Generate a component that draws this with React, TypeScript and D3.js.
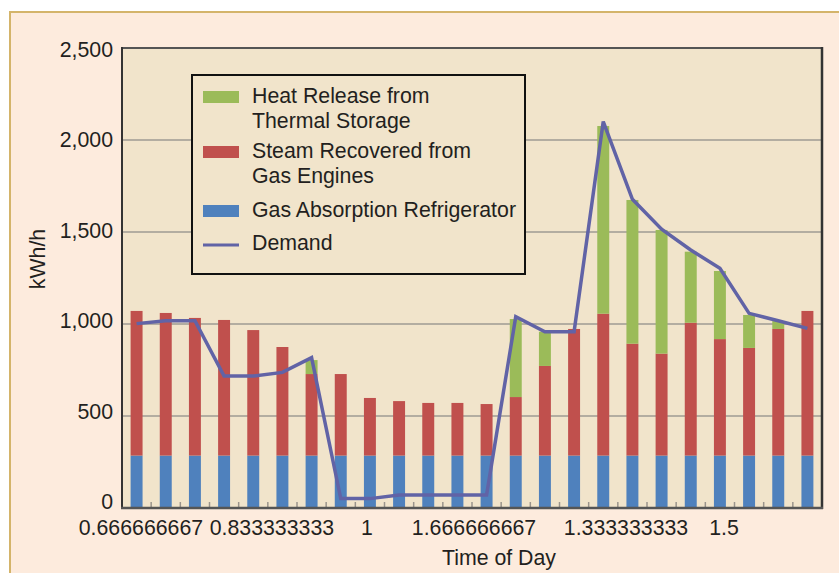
import React from "react";
import * as d3 from "d3";

// ---- data ----
const categories = [
  "16", "17", "18", "19", "20", "21", "22", "23", "24", "1", "2", "3",
  "4", "5", "6", "7", "8", "9", "10", "11", "12", "13", "14", "15",
];
const gasAbsorption = [
  285, 285, 285, 285, 285, 285, 285, 285, 285, 285, 285, 285,
  285, 285, 285, 285, 285, 285, 285, 285, 285, 285, 285, 285,
];
const steamRecovered = [
  786, 775, 748, 737, 682, 590, 443, 443, 313, 296, 286, 286,
  280, 318, 487, 688, 771, 608, 554, 722, 633, 585, 688, 786,
];
const heatRelease = [
  0, 0, 0, 0, 0, 0, 76, 0, 0, 0, 0, 0,
  0, 424, 186, 0, 1020, 781, 672, 386, 370, 179, 43, 0,
];
const demand = [
  1002, 1018, 1018, 717, 717, 737, 817, 51, 51, 71, 71, 71,
  71, 1040, 958, 958, 2100, 1678, 1515, 1402, 1303, 1058, 1018, 976,
];
const xTickLabels = ["0.666666667", "0.833333333", "1", "1.666666667", "1.333333333", "1.5"];
const yTicks = [0, 500, 1000, 1500, 2000, 2500];

// label anchor positions in category units (layout, not data)
const xTickAt = [0.15, 4.64, 7.9, 11.57, 16.78, 20.14];

const W = 839;
const H = 573;
const plot = { left: 122, right: 822, top: 48, bottom: 508 };
const FONT = "'Liberation Sans', Arial, Helvetica, sans-serif";
const TEXT = "#231f20";
const C_GREEN = "#9bbb59";
const C_RED = "#c0504d";
const C_BLUE = "#4f81bd";
const C_LINE = "#6163a6";
const FS = 21.3;

export default function App() {
  const x = d3
    .scaleBand<string>()
    .domain(categories)
    .range([plot.left, plot.right])
    .paddingInner(0.59)
    .paddingOuter(0.295);
  const y = d3.scaleLinear().domain([0, 2500]).range([plot.bottom, plot.top]);
  // baseline positions of the y tick labels (evenly spaced, slightly tighter than ticks)
  const yLab = d3.scaleLinear().domain([0, 2500]).range([509, 56.7]);
  const step = (plot.right - plot.left) / categories.length;
  const catX = (u: number) => plot.left + (u + 0.5) * step;
  const center = (c: string) => (x(c) as number) + x.bandwidth() / 2;

  const stacks = categories.map((c, i) => {
    const b1 = gasAbsorption[i];
    const s1 = b1 + steamRecovered[i];
    const h1 = s1 + heatRelease[i];
    return {
      c,
      segs: [
        { y0: 0, y1: b1, color: C_BLUE },
        { y0: b1, y1: s1, color: C_RED },
        { y0: s1, y1: h1, color: C_GREEN },
      ],
    };
  });

  const line = d3
    .line<number>()
    .x((_, i) => center(categories[i]))
    .y((d) => y(d));

  const legendItems = [
    { type: "rect", color: C_GREEN, lines: ["Heat Release from", "Thermal Storage"], sy: 91, by: 103 },
    { type: "rect", color: C_RED, lines: ["Steam Recovered from", "Gas Engines"], sy: 146, by: 158 },
    { type: "rect", color: C_BLUE, lines: ["Gas Absorption Refrigerator"], sy: 205, by: 217 },
    { type: "line", color: C_LINE, lines: ["Demand"], sy: 245, by: 250 },
  ];

  return (
    <div style={{ position: "absolute", left: 0, top: 0 }}>
      <svg width={W} height={H} style={{ display: "block" }} fontFamily={FONT}>
        <rect x={0} y={0} width={W} height={H} fill="#ffffff" />
        <rect x={10} y={12} width={W + 20} height={H + 20} fill="#fdebdd" stroke="#d4b46a" strokeWidth={2} />
        {/* plot area */}
        <rect x={plot.left} y={plot.top} width={plot.right - plot.left} height={plot.bottom - plot.top} fill="#f1e4cb" />
        {/* grid */}
        {yTicks.filter((t) => t > 0 && t < 2500).map((t) => (
          <line key={t} x1={plot.left} x2={plot.right} y1={y(t)} y2={y(t)} stroke="#b3ada1" strokeWidth={2} />
        ))}
        {/* bars */}
        {stacks.map((s) => (
          <g key={s.c}>
            {s.segs.filter((g) => g.y1 > g.y0).map((g, k) => (
              <rect key={k} x={x(s.c)} width={x.bandwidth()} y={y(g.y1)} height={y(g.y0) - y(g.y1)} fill={g.color} />
            ))}
          </g>
        ))}
        {/* minor ticks at band boundaries */}
        {d3.range(1, categories.length + 1).map((i) => (
          <line key={i} x1={plot.left + i * step} x2={plot.left + i * step} y1={plot.bottom} y2={plot.bottom - 6} stroke="#9a948c" strokeWidth={1.5} />
        ))}
        {/* frame */}
        <line x1={plot.left} x2={plot.right} y1={plot.top} y2={plot.top} stroke="#555555" strokeWidth={2} />
        <line x1={plot.right} x2={plot.right} y1={plot.top - 1} y2={plot.bottom + 1} stroke="#333333" strokeWidth={2.5} />
        <line x1={plot.left} x2={plot.left} y1={plot.top - 1} y2={plot.bottom + 1} stroke="#333333" strokeWidth={2} />
        <line x1={plot.left - 1} x2={plot.right + 1} y1={plot.bottom} y2={plot.bottom} stroke="#555555" strokeWidth={2.5} />
        {/* demand line */}
        <path d={line(demand) || ""} fill="none" stroke={C_LINE} strokeWidth={3.5} strokeLinejoin="miter" />
        {/* legend */}
        <rect x={192} y={75} width={333} height={199} fill="#f1e4cb" stroke="#111111" strokeWidth={2} />
        {legendItems.map((it, i) => (
          <g key={i}>
            {it.type === "rect" ? (
              <rect x={203} y={it.sy} width={36} height={12} fill={it.color} />
            ) : (
              <line x1={203} x2={239} y1={it.sy} y2={it.sy} stroke={it.color} strokeWidth={3} />
            )}
            {it.lines.map((t, j) => (
              <text key={j} x={252} y={it.by + j * 24.5} fontSize={FS} fill={TEXT}>{t}</text>
            ))}
          </g>
        ))}
        {/* y axis labels */}
        {yTicks.map((t) => (
          <text key={t} x={113} y={yLab(t)} textAnchor="end" fontSize={FS} fill={TEXT}>
            {d3.format(",")(t)}
          </text>
        ))}
        <text transform={`translate(45,259) rotate(-90)`} textAnchor="middle" fontSize={FS} fill={TEXT}>kWh/h</text>
        {/* x axis labels */}
        {xTickLabels.map((t, i) => (
          <text key={t} x={catX(xTickAt[i])} y={535} textAnchor="middle" fontSize={FS} fill={TEXT}>{t}</text>
        ))}
        <text x={499} y={565} textAnchor="middle" fontSize={FS} fill={TEXT}>Time of Day</text>
      </svg>
    </div>
  );
}
